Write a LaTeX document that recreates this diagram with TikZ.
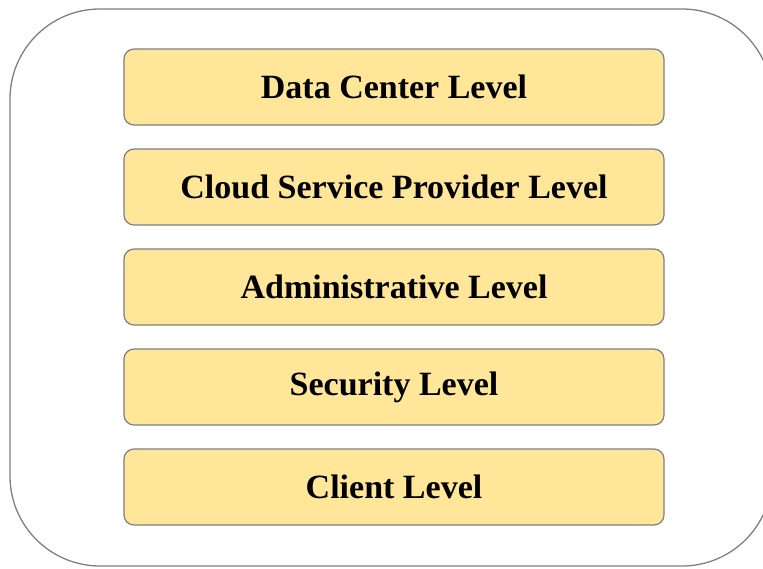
\documentclass[tikz,border=0pt]{standalone}
\usepackage{fontspec}
\setmainfont{Liberation Serif}
\definecolor{levelfill}{HTML}{FFE699}
\definecolor{levelline}{HTML}{7F7F7F}

\begin{document}
\begin{tikzpicture}[x=1pt,y=-1pt]
		\tikzstyle{levelbox}=[rectangle,draw=levelline,fill=levelfill,
							line width=1.2pt,rounded corners=10pt,
							minimum width=540pt,minimum height=76pt,inner sep=0pt,
							font=\fontsize{34}{40}\selectfont\bfseries]

		\useasboundingbox (0,0) rectangle (763,568);
		\clip (0,0) rectangle (763,568);

		% frame
		\draw[levelline,line width=1.3pt,rounded corners=90pt] (10,9) rectangle (772,566);

		% levels
		\foreach \name/\y/\label in {dc/87/Data Center Level,
				csp/187/Cloud Service Provider Level,
				adm/287/Administrative Level,
				sec/387/Security Level,
				cli/487/Client Level}
			\node[levelbox] (\name) at (394,\y) {\label};
	\end{tikzpicture}
\end{document}
